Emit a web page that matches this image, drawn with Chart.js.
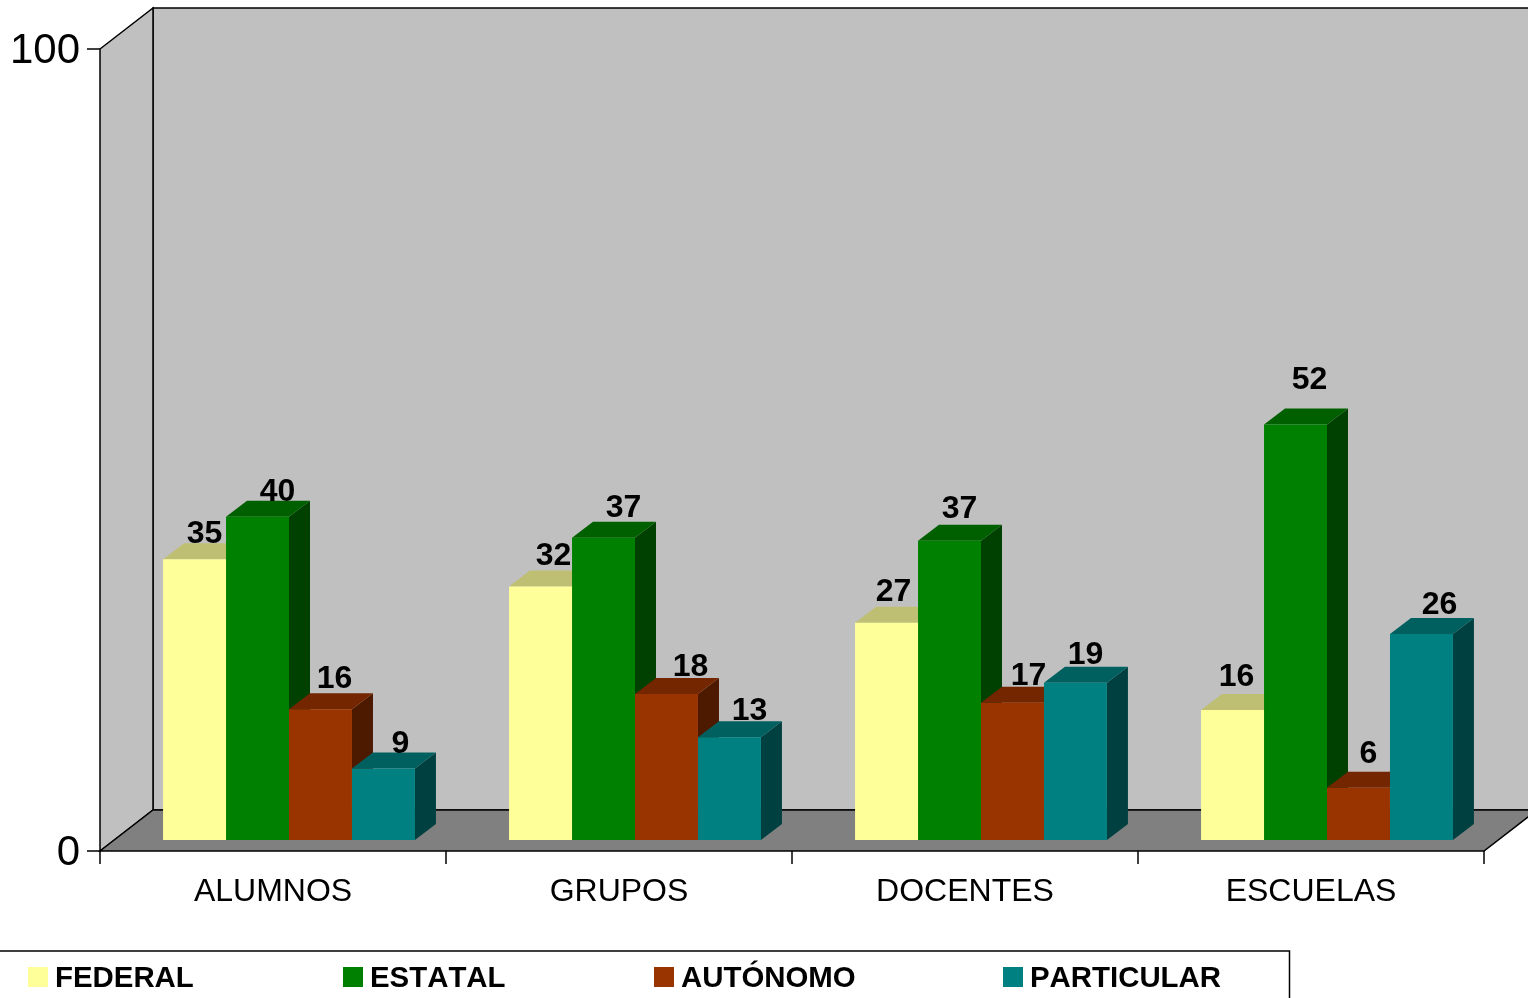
<!DOCTYPE html>
<html lang="es">
<head>
    <meta charset="UTF-8">
    <title>Alumnos, grupos, docentes y escuelas</title>
    <script src="https://cdn.jsdelivr.net/npm/chart.js"></script>
    <style>
        html, body { margin: 0; padding: 0; background: #fff; overflow: hidden; }
        canvas { display: block; }
    </style>
</head>
<body>
    <canvas id="grafico" width="1528" height="998"></canvas>

    <script>
        const categorias = ['ALUMNOS', 'GRUPOS', 'DOCENTES', 'ESCUELAS'];
        const yTicks = [0, 100];

        // bar heights
        const federal = [35.0, 31.6, 27.1, 16.2];
        const estatal = [40.3, 37.7, 37.3, 51.8];
        const autonomo = [16.3, 18.2, 17.1, 6.5];
        const particular = [8.9, 12.8, 19.6, 25.7];

        // numbers printed over the bars
        const etiquetasFederal = ['35', '32', '27', '16'];
        const etiquetasEstatal = ['40', '37', '37', '52'];
        const etiquetasAutonomo = ['16', '18', '17', '6'];
        const etiquetasParticular = ['9', '13', '19', '26'];

        // the labels were placed by hand in the original, offsets from bar centre/top
        const nudgeX = [[10, 13, 7, 4], [20, 20, 10, 14], [14, 24, 16, 10], [17, 20, 10, 18]];
        const nudgeY = [[-27, -32, -32, -35], [-27, -31, -34, -46], [-32, -29, -29, -36], [-26, -28, -30, -31]];

        const series = [
            { label: 'FEDERAL', data: federal, etiquetas: etiquetasFederal, color: '#FFFF99', top: '#BFBF73', side: '#808060', legendX: 28 },
            { label: 'ESTATAL', data: estatal, etiquetas: etiquetasEstatal, color: '#008000', top: '#006000', side: '#004000', legendX: 343 },
            { label: 'AUTÓNOMO', data: autonomo, etiquetas: etiquetasAutonomo, color: '#993300', top: '#732600', side: '#4D1A00', legendX: 654 },
            { label: 'PARTICULAR', data: particular, etiquetas: etiquetasParticular, color: '#008080', top: '#006060', side: '#004040', legendX: 1003 }
        ];

        const FONT = '"Liberation Sans", Arial, sans-serif';
        const WALL = '#C0C0C0';
        const FLOOR = '#808080';

        // the axes sit in front of the plot area, bars stand a bit deeper
        const FRONT_DX = -16, FRONT_DY = 11;
        const BACK_DX = 37, BACK_DY = -30;
        const BAR_DX = 21, BAR_DY = -16;

        function poly(ctx, pts, fill, stroke) {
            ctx.beginPath();
            pts.forEach((p, i) => i ? ctx.lineTo(p[0], p[1]) : ctx.moveTo(p[0], p[1]));
            ctx.closePath();
            if (fill) { ctx.fillStyle = fill; ctx.fill(); }
            if (stroke) { ctx.strokeStyle = stroke; ctx.lineWidth = 1.5; ctx.stroke(); }
        }

        function line(ctx, x1, y1, x2, y2, width) {
            ctx.beginPath();
            ctx.moveTo(x1, y1);
            ctx.lineTo(x2, y2);
            ctx.strokeStyle = '#000';
            ctx.lineWidth = width || 1.5;
            ctx.stroke();
        }

        const paredes = {
            id: 'paredes',
            beforeDatasetsDraw(chart) {
                const ctx = chart.ctx;
                const area = chart.chartArea;
                const xs = chart.scales.x;
                const ys = chart.scales.y;

                const left = area.left + FRONT_DX, right = area.right + FRONT_DX;
                const bottom = ys.getPixelForValue(0) + FRONT_DY;
                const top = ys.getPixelForValue(100) + FRONT_DY;
                const bLeft = area.left + BACK_DX, bRight = area.right + BACK_DX;
                const bBottom = ys.getPixelForValue(0) + BACK_DY;
                const bTop = ys.getPixelForValue(100) + BACK_DY;

                ctx.save();
                poly(ctx, [[bLeft, bTop], [bRight, bTop], [bRight, bBottom], [bLeft, bBottom]], WALL, '#000');
                poly(ctx, [[left, top], [bLeft, bTop], [bLeft, bBottom], [left, bottom]], WALL, '#000');
                poly(ctx, [[left, bottom], [bLeft, bBottom], [bRight, bBottom], [right, bottom]], FLOOR, '#000');

                // tick marks, x ones fall between the categories
                yTicks.forEach(v => {
                    const y = ys.getPixelForValue(v) + FRONT_DY;
                    line(ctx, left - 13, y, left, y);
                });
                const paso = xs.getPixelForValue(1) - xs.getPixelForValue(0);
                for (let i = 0; i <= categorias.length; i++) {
                    const x = left + paso * i;
                    line(ctx, x, bottom, x, bottom + 13);
                }

                // depth of the bars, back to front so fronts hide the right things
                chart.data.datasets.forEach((ds, d) => {
                    chart.getDatasetMeta(d).data.forEach(bar => {
                        const w = bar.width / 2;
                        const l = bar.x - w, r = bar.x + w;
                        poly(ctx, [[r, bar.y], [r + BAR_DX, bar.y + BAR_DY], [r + BAR_DX, bar.base + BAR_DY], [r, bar.base]], ds.sideColor);
                        poly(ctx, [[l, bar.y], [l + BAR_DX, bar.y + BAR_DY], [r + BAR_DX, bar.y + BAR_DY], [r, bar.y]], ds.topColor);
                    });
                });
                ctx.restore();
            },
            afterDatasetsDraw(chart) {
                const ctx = chart.ctx;
                ctx.save();
                ctx.font = 'bold 32px ' + FONT;
                ctx.fillStyle = '#000';
                ctx.textAlign = 'center';
                ctx.textBaseline = 'middle';
                chart.data.datasets.forEach((ds, d) => {
                    chart.getDatasetMeta(d).data.forEach((bar, i) => {
                        ctx.fillText(ds.etiquetas[i], bar.x + nudgeX[d][i], bar.y + nudgeY[d][i] + 2);
                    });
                });
                ctx.restore();
            }
        };

        // legend has uneven gaps and runs off the page, so it is drawn by hand
        const leyenda = {
            id: 'leyenda',
            afterDraw(chart) {
                const ctx = chart.ctx;
                ctx.save();
                ctx.strokeStyle = '#000';
                ctx.lineWidth = 1.5;
                ctx.beginPath();
                ctx.moveTo(0, 951);
                ctx.lineTo(1289.5, 951);
                ctx.lineTo(1289.5, 998);
                ctx.stroke();
                ctx.font = 'bold 29.4px ' + FONT;
                ctx.fontKerning = 'none';
                ctx.textBaseline = 'alphabetic';
                ctx.textAlign = 'left';
                series.forEach(s => {
                    ctx.fillStyle = s.color;
                    ctx.fillRect(s.legendX, 967, 20, 20);
                    ctx.fillStyle = '#000';
                    ctx.fillText(s.label, s.legendX + 27, 987);
                });
                ctx.restore();
            }
        };

        new Chart(document.getElementById('grafico').getContext('2d'), {
            type: 'bar',
            data: {
                labels: categorias,
                datasets: series.map(s => ({
                    label: s.label,
                    data: s.data,
                    etiquetas: s.etiquetas,
                    backgroundColor: s.color,
                    topColor: s.top,
                    sideColor: s.side,
                    borderWidth: 0,
                    categoryPercentage: 0.728,
                    barPercentage: 1
                }))
            },
            plugins: [paredes, leyenda],
            options: {
                responsive: false,
                animation: false,
                layout: { autoPadding: false, padding: { top: 38, right: 28, bottom: 0, left: 0 } },
                plugins: { legend: { display: false }, tooltip: { enabled: false } },
                scales: {
                    x: {
                        afterFit: s => { s.height = 158; },
                        grid: { display: false },
                        border: { display: false },
                        ticks: {
                            color: '#000',
                            font: { family: FONT, size: 32 },
                            autoSkip: false,
                            maxRotation: 0,
                            padding: 25,
                            labelOffset: -16
                        }
                    },
                    y: {
                        min: 0,
                        max: 100,
                        afterFit: s => { s.width = 116; },
                        afterBuildTicks: s => { s.ticks = yTicks.map(v => ({ value: v })); },
                        grid: { display: false },
                        border: { display: false },
                        ticks: {
                            color: '#000',
                            // tiny line height so the scale reserves no room above its top tick
                            font: { family: FONT, size: 42, lineHeight: 0.01 },
                            padding: 28,
                            labelOffset: 13
                        }
                    }
                }
            }
        });
    </script>
</body>
</html>
